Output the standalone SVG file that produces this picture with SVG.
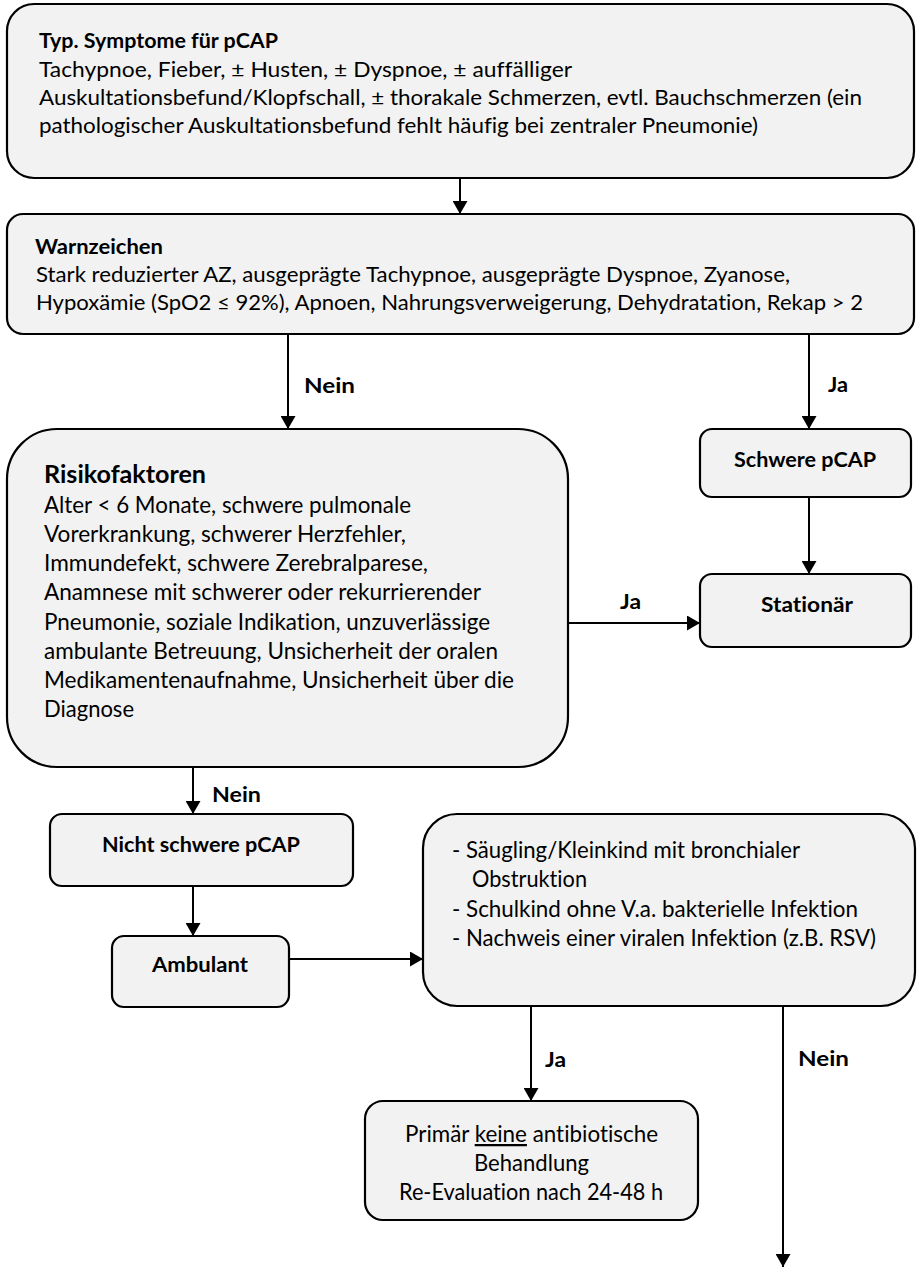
<svg xmlns="http://www.w3.org/2000/svg" width="921" height="1268" viewBox="0 0 921 1268">
<defs>
<marker id="ah" markerUnits="userSpaceOnUse" markerWidth="15" markerHeight="15" refX="13" refY="7.5" orient="auto">
<path d="M0,0 L13,7.5 L0,15 z" fill="#000"/>
</marker>
<style>
.box{fill:#f2f2f2;stroke:#000;stroke-width:2.2}
.t{font-family:Lato,"Liberation Sans",sans-serif;font-size:21.5px;fill:#000;font-variant-ligatures:none;font-feature-settings:"liga" 0,"dlig" 0}
.r{font-size:22.5px}
.b{font-weight:bold}
.c{text-anchor:middle}
.edge{stroke:#000;stroke-width:2;fill:none;marker-end:url(#ah)}
</style>
</defs>
<rect width="921" height="1268" fill="#fff"/>
<g id="connectors">
<path class="edge" d="M460,178 V214"/>
<path class="edge" d="M288,334 V429"/>
<path class="edge" d="M809,334 V429"/>
<path class="edge" d="M809,497 V574"/>
<path class="edge" d="M568,623 H700"/>
<path class="edge" d="M193,767 V814"/>
<path class="edge" d="M193,886 V936"/>
<path class="edge" d="M289,959 H423"/>
<path class="edge" d="M531,1006 V1101"/>
<path class="edge" d="M783,1006 V1267"/>
<text class="t b" x="304" y="393" textLength="51" lengthAdjust="spacingAndGlyphs">Nein</text>
<text class="t b" x="828" y="392" textLength="20" lengthAdjust="spacingAndGlyphs">Ja</text>
<text class="t b" x="620" y="609" textLength="21" lengthAdjust="spacingAndGlyphs">Ja</text>
<text class="t b" x="212" y="802" textLength="49" lengthAdjust="spacingAndGlyphs">Nein</text>
<text class="t b" x="545" y="1067" textLength="21" lengthAdjust="spacingAndGlyphs">Ja</text>
<text class="t b" x="798" y="1066" textLength="51" lengthAdjust="spacingAndGlyphs">Nein</text>
</g>
<g id="symptome">
<rect class="box" x="7" y="4" width="907" height="174" rx="27"/>
<text class="t b" x="39" y="48" textLength="239" lengthAdjust="spacingAndGlyphs">Typ. Symptome für pCAP</text>
<text class="t" x="39" y="77" textLength="533" lengthAdjust="spacingAndGlyphs">Tachypnoe, Fieber, ± Husten, ± Dyspnoe, ± auffälliger</text>
<text class="t" x="39" y="105" textLength="823" lengthAdjust="spacingAndGlyphs">Auskultationsbefund/Klopfschall, ± thorakale Schmerzen, evtl. Bauchschmerzen (ein</text>
<text class="t" x="39" y="133" textLength="719" lengthAdjust="spacingAndGlyphs">pathologischer Auskultationsbefund fehlt häufig bei zentraler Pneumonie)</text>
</g>
<g id="warnzeichen">
<rect class="box" x="7" y="214" width="907" height="120" rx="16"/>
<text class="t b" x="35" y="254" textLength="128" lengthAdjust="spacingAndGlyphs">Warnzeichen</text>
<text class="t" x="36" y="282" textLength="754" lengthAdjust="spacingAndGlyphs">Stark reduzierter AZ, ausgeprägte Tachypnoe, ausgeprägte Dyspnoe, Zyanose,</text>
<text class="t" x="36" y="310" textLength="827" lengthAdjust="spacingAndGlyphs">Hypoxämie (SpO2 ≤ 92%), Apnoen, Nahrungsverweigerung, Dehydratation, Rekap &gt; 2</text>
</g>
<g id="risikofaktoren">
<rect class="box" x="7" y="429" width="561" height="338" rx="50"/>
<text class="t b" x="44" y="483" style="font-size:24.5px" textLength="162" lengthAdjust="spacingAndGlyphs">Risikofaktoren</text>
<text class="t r" x="44" y="513" textLength="367" lengthAdjust="spacingAndGlyphs">Alter &lt; 6 Monate, schwere pulmonale</text>
<text class="t r" x="44" y="542" textLength="362" lengthAdjust="spacingAndGlyphs">Vorerkrankung, schwerer Herzfehler,</text>
<text class="t r" x="44" y="571" textLength="384" lengthAdjust="spacingAndGlyphs">Immundefekt, schwere Zerebralparese,</text>
<text class="t r" x="44" y="600" textLength="437" lengthAdjust="spacingAndGlyphs">Anamnese mit schwerer oder rekurrierender</text>
<text class="t r" x="44" y="630" textLength="446" lengthAdjust="spacingAndGlyphs">Pneumonie, soziale Indikation, unzuverlässige</text>
<text class="t r" x="44" y="659" textLength="454" lengthAdjust="spacingAndGlyphs">ambulante Betreuung, Unsicherheit der oralen</text>
<text class="t r" x="44" y="688" textLength="470" lengthAdjust="spacingAndGlyphs">Medikamentenaufnahme, Unsicherheit über die</text>
<text class="t r" x="44" y="717" textLength="90" lengthAdjust="spacingAndGlyphs">Diagnose</text>
</g>
<g id="schwere">
<rect class="box" x="700" y="429" width="211" height="68" rx="12"/>
<text class="t b c" x="805" y="467" textLength="142" lengthAdjust="spacingAndGlyphs">Schwere pCAP</text>
</g>
<g id="stationaer">
<rect class="box" x="700" y="574" width="211" height="73" rx="12"/>
<text class="t b c" x="807" y="612" textLength="92" lengthAdjust="spacingAndGlyphs">Stationär</text>
</g>
<g id="nicht-schwere">
<rect class="box" x="50" y="814" width="303" height="72" rx="12"/>
<text class="t b c" x="201" y="852" textLength="198" lengthAdjust="spacingAndGlyphs">Nicht schwere pCAP</text>
</g>
<g id="ambulant">
<rect class="box" x="112" y="936" width="177" height="71" rx="12"/>
<text class="t b c" x="200" y="972" textLength="96" lengthAdjust="spacingAndGlyphs">Ambulant</text>
</g>
<g id="viral">
<rect class="box" x="423" y="814" width="492" height="192" rx="34"/>
<text class="t r" x="452" y="858" textLength="348" lengthAdjust="spacingAndGlyphs">- Säugling/Kleinkind mit bronchialer</text>
<text class="t r" x="472" y="887" textLength="115" lengthAdjust="spacingAndGlyphs">Obstruktion</text>
<text class="t r" x="452" y="917" textLength="406" lengthAdjust="spacingAndGlyphs">- Schulkind ohne V.a. bakterielle Infektion</text>
<text class="t r" x="452" y="946" textLength="424" lengthAdjust="spacingAndGlyphs">- Nachweis einer viralen Infektion (z.B. RSV)</text>
</g>
<g id="keine-ab">
<rect class="box" x="365" y="1101" width="333" height="119" rx="18"/>
<text class="t r c" x="531.5" y="1142" textLength="253" lengthAdjust="spacingAndGlyphs">Primär <tspan text-decoration="underline">keine</tspan> antibiotische</text>
<text class="t r c" x="531.5" y="1171" textLength="115" lengthAdjust="spacingAndGlyphs">Behandlung</text>
<text class="t r c" x="531" y="1200" textLength="264" lengthAdjust="spacingAndGlyphs">Re-Evaluation nach 24-48 h</text>
</g>
</svg>
